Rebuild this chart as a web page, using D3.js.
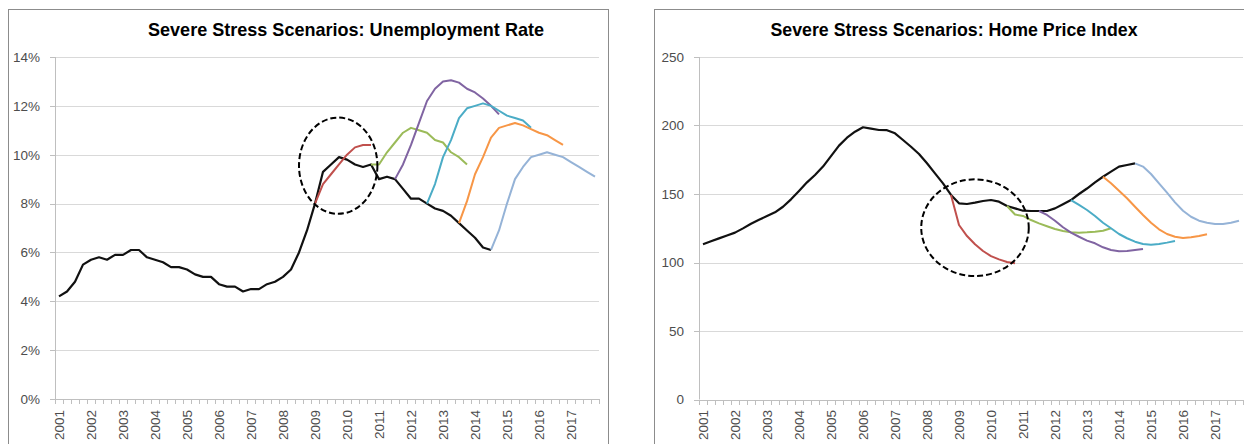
<!DOCTYPE html>
<html>
<head>
<meta charset="utf-8">
<script src="https://cdn.jsdelivr.net/npm/d3@7"></script>
<style>
  body { margin: 0; background: #fff; }
  text { font-family: "Liberation Sans", Arial, sans-serif; }
</style>
</head>
<body>
<div id="chart"></div>
<script>
// quarterly categories, labelled once a year
const years = ['2001','2002','2003','2004','2005','2006','2007','2008','2009',
               '2010','2011','2012','2013','2014','2015','2016','2017'];
const quarters = [];
years.forEach(y => ['Q1','Q2','Q3','Q4'].forEach(q => quarters.push(y + q)));

// unemployment rate (%), actual from 2001Q1
const unempActual = [4.2,4.4,4.8,5.5, 5.7,5.8,5.7,5.9, 5.9,6.1,6.1,5.8, 5.7,5.6,5.4,5.4,
  5.3,5.1,5.0,5.0, 4.7,4.6,4.6,4.4, 4.5,4.5,4.7,4.8, 5.0,5.3,6.0,6.9,
  8.0,9.3,9.6,9.9, 9.8,9.6,9.5,9.6, 9.0,9.1,9.0,8.6, 8.2,8.2,8.0,7.8,
  7.7,7.5,7.2,6.9, 6.6,6.2,6.1];
const unempRed = [8.0,8.8,9.2,9.6,10.0,10.3,10.4,10.4];
const unempGreen = [9.6,9.6,10.1,10.5,10.9,11.1,11.0,10.9,10.6,10.5,10.1,9.9,9.6];
const unempPurple = [9.0,9.6,10.4,11.3,12.2,12.7,13.0,13.05,12.95,12.7,12.55,12.3,12.0,11.65];
const unempTeal = [8.0,8.8,9.9,10.6,11.5,11.9,12.0,12.1,12.0,11.8,11.6,11.5,11.4,11.1];
const unempOrange = [7.2,8.1,9.2,9.9,10.7,11.1,11.2,11.3,11.2,11.05,10.9,10.8,10.6,10.4];
const unempLightBlue = [6.1,6.9,8.0,9.0,9.5,9.9,10.0,10.1,10.0,9.9,9.7,9.5,9.3,9.1];
const unempStarts = ['2009Q1','2010Q4','2011Q3','2012Q3','2013Q3','2014Q3'];
const unempTicks = [0,2,4,6,8,10,12,14];

// home price index, actual from 2001Q1
const hpiActual = [113.3,115.5,117.6,119.7, 121.8,124.9,128.3,131.2, 133.9,136.6,140.7,146.1,
  152.2,158.5,163.9,170.0, 177.7,185.3,191.1,195.5, 198.7,197.7,196.7,196.6,
  194.3,189.4,184.5,179.2, 172.4,165.1,157.8,149.3, 143.2,142.7,143.7,144.9,
  145.6,144.4,141.2,139.5, 137.8,137.6,137.6,137.6, 139.5,142.5,145.6,150.0,
  154.0,158.5,162.6,166.3, 170.0,171.2,172.4];
const hpiRed = [149.3,127.4,119.3,113.3,108.4,104.7,102.3,100.4,99.4];
const hpiGreen = [141.2,135,134,131,128.6,126.5,124.5,123,122,121.8,122,122.5,123.2,125];
const hpiPurple = [137.6,134.7,130.5,125.7,121.8,118.8,116,114,111.1,109.1,108.2,108.4,109.1,109.9];
const hpiTeal = [145.6,142,138.3,133.9,129,125,120.8,117.7,115.2,113.5,113,113.5,114.5,115.7];
const hpiOrange = [162.6,157.8,152.4,146.9,140.7,134.7,129,124.2,120.8,118.8,117.9,118.4,119.3,120.6];
const hpiLightBlue = [172.4,170,164.6,157.8,151,143.9,137.8,133.4,130.5,129,128.1,128.1,129,130.5];
const hpiStarts = ['2008Q4','2010Q3','2011Q3','2012Q3','2013Q3','2014Q3'];
const hpiTicks = [0,50,100,150,200,250];

const scenarioColors = ['#C0504D','#9BBB59','#8064A2','#4BACC6','#F79646','#95B3D7'];

const W = 1244, H = 444;
const svg = d3.select('#chart').append('svg')
  .attr('width', W)
  .attr('height', H);

function drawPanel(p) {
  let g = svg.append('g');

  // chart frame
  g.append('rect')
    .attr('x', p.frameX + 0.5)
    .attr('y', 9.5)
    .attr('width', 600)
    .attr('height', 460)
    .attr('fill', '#fff')
    .attr('stroke', '#8c8c8c')
    .attr('stroke-width', 1);

  let x = d3.scaleBand().domain(quarters).range([p.left, p.right]);
  let xi = d3.scaleLinear().domain([0, quarters.length]).range([p.left, p.right]);
  let y = d3.scaleLinear().domain(p.yDomain).range([p.bottom, 57]);
  let cx = q => x(q) + x.bandwidth() / 2;

  // gridlines
  g.selectAll('.grid')
    .data(p.ticks.slice(1))
    .enter()
    .append('line')
    .attr('x1', p.left)
    .attr('x2', p.right)
    .attr('y1', d => Math.round(y(d)) + 0.5)
    .attr('y2', d => Math.round(y(d)) + 0.5)
    .attr('stroke', '#d9d9d9')
    .attr('stroke-width', 1);

  // y axis line and ticks
  g.append('line')
    .attr('x1', p.left + 0.5).attr('x2', p.left + 0.5)
    .attr('y1', 57).attr('y2', p.bottom)
    .attr('stroke', '#bfbfbf');
  g.selectAll('.ytick')
    .data(p.ticks)
    .enter()
    .append('line')
    .attr('x1', p.left - 5).attr('x2', p.left)
    .attr('y1', d => Math.round(y(d)) + 0.5)
    .attr('y2', d => Math.round(y(d)) + 0.5)
    .attr('stroke', '#bfbfbf');
  g.selectAll('.ylab')
    .data(p.ticks)
    .enter()
    .append('text')
    .text(p.fmt)
    .attr('x', p.left - 15)
    .attr('y', d => y(d))
    .attr('dy', '0.36em')
    .attr('text-anchor', 'end')
    .attr('font-size', 13.5)
    .attr('fill', '#4d4d4d');

  // x axis line, quarter ticks, year labels
  g.append('line')
    .attr('x1', p.left).attr('x2', p.right)
    .attr('y1', Math.round(y(0)) + 0.5).attr('y2', Math.round(y(0)) + 0.5)
    .attr('stroke', '#bfbfbf');
  g.selectAll('.xtick')
    .data(d3.range(quarters.length + 1))
    .enter()
    .append('line')
    .attr('x1', d => Math.round(xi(d)) + 0.5)
    .attr('x2', d => Math.round(xi(d)) + 0.5)
    .attr('y1', Math.round(y(0)))
    .attr('y2', Math.round(y(0)) + 5)
    .attr('stroke', '#bfbfbf');
  g.selectAll('.xlab')
    .data(years)
    .enter()
    .append('text')
    .text(d => d)
    .attr('transform', d => 'translate(' + cx(d + 'Q1') + ',410) rotate(-90)')
    .attr('dy', '0.36em')
    .attr('text-anchor', 'end')
    .attr('font-size', 13.5)
    .attr('fill', '#4d4d4d');

  // title
  g.append('text')
    .text(p.title)
    .attr('x', p.titleX)
    .attr('y', 36)
    .attr('text-anchor', 'middle')
    .attr('font-size', 18.5)
    .attr('font-weight', 'bold')
    .attr('textLength', p.titleW)
    .attr('lengthAdjust', 'spacingAndGlyphs')
    .attr('fill', '#000');

  let line = d3.line()
    .x(d => cx(d.q))
    .y(d => y(d.v));

  let actual = p.actual.map((v, i) => ({q: quarters[i], v: v}));
  g.append('path')
    .datum(actual)
    .attr('d', line)
    .attr('fill', 'none')
    .attr('stroke', '#111')
    .attr('stroke-width', 2.2)
    .attr('stroke-linejoin', 'round');

  p.scenarios.forEach((vals, k) => {
    let s = quarters.indexOf(p.starts[k]);
    let pts = vals.map((v, i) => ({q: quarters[s + i], v: v}))
      .filter(d => d.q !== undefined);
    g.append('path')
      .datum(pts)
      .attr('d', line)
      .attr('fill', 'none')
      .attr('stroke', scenarioColors[k])
      .attr('stroke-width', 2)
      .attr('stroke-linejoin', 'round');
  });

  // dashed ellipse highlighting the 2009 scenario
  let e = p.ellipse;
  g.append('ellipse')
    .attr('cx', xi(e[0]))
    .attr('cy', y(e[1]))
    .attr('rx', xi(e[2]) - xi(0))
    .attr('ry', y(0) - y(e[3]))
    .attr('fill', 'none')
    .attr('stroke', '#000')
    .attr('stroke-width', 2)
    .attr('stroke-dasharray', '6,3');
}

drawPanel({
  frameX: 8, left: 55, right: 599, bottom: 399,
  title: 'Severe Stress Scenarios: Unemployment Rate', titleX: 346, titleW: 396,
  yDomain: [0, 14], ticks: unempTicks, fmt: d => d + '%',
  actual: unempActual,
  scenarios: [unempRed, unempGreen, unempPurple, unempTeal, unempOrange, unempLightBlue],
  starts: unempStarts,
  ellipse: [35.4, 9.55, 4.9, 1.97]
});

drawPanel({
  frameX: 654, left: 699, right: 1243, bottom: 399.5,
  title: 'Severe Stress Scenarios: Home Price Index', titleX: 954, titleW: 367,
  yDomain: [0, 250], ticks: hpiTicks, fmt: d => d,
  actual: hpiActual,
  scenarios: [hpiRed, hpiGreen, hpiPurple, hpiTeal, hpiOrange, hpiLightBlue],
  starts: hpiStarts,
  ellipse: [34.5, 125.4, 6.72, 35.3]
});
</script>
</body>
</html>
